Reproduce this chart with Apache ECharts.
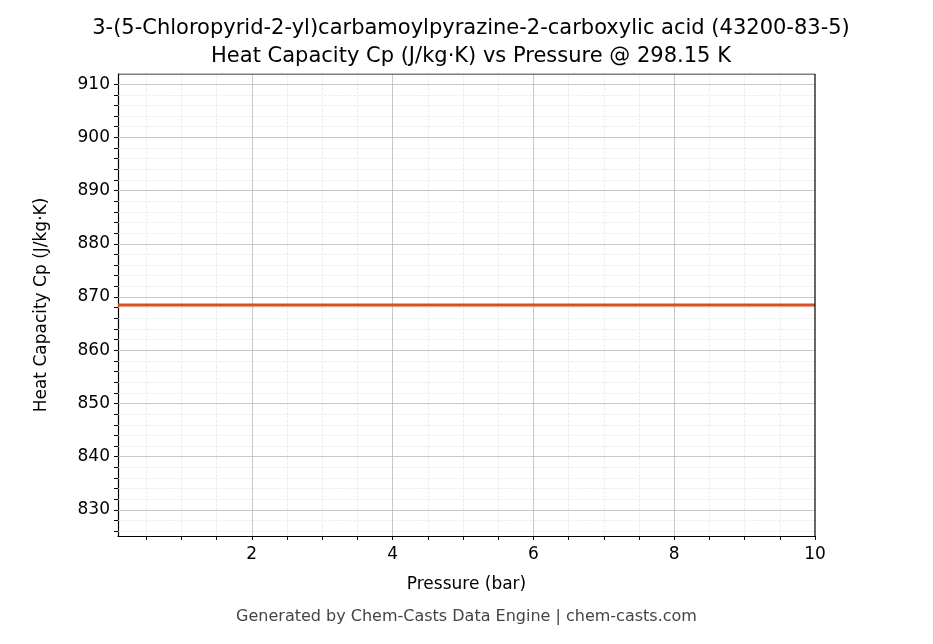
<!DOCTYPE html>
<html><head><meta charset="utf-8">
<script src="https://cdn.jsdelivr.net/npm/echarts@6/dist/echarts.min.js"></script>
<style>html,body{margin:0;padding:0;background:#fff}#c{width:933px;height:644px}</style>
</head><body><div id="c"></div>
<script>
const pressure = [0.1, 1, 2, 3, 4, 5, 6, 7, 8, 9, 10];
const cp = [868.5, 868.5, 868.5, 868.5, 868.5, 868.5, 868.5, 868.5, 868.5, 868.5, 868.5];
const xMajor = [2, 4, 6, 8, 10];
const xMinor = [0.5, 1, 1.5, 2.5, 3, 3.5, 4.5, 5, 5.5, 6.5, 7, 7.5, 8.5, 9, 9.5];
const yMajor = [830, 840, 850, 860, 870, 880, 890, 900, 910];
const yMinor = [];
for (let v = 826; v <= 911; v += 2) if (v % 10 !== 0) yMinor.push(v);

const font = 'DejaVu Sans';
const chart = echarts.init(document.getElementById('c'));
const ml = (arr, axis, color, type) => arr.map(v => ({[axis]: v, lineStyle: {color, width: 0.7, type}}));
chart.setOption({
  animation: false,
  title: {text: '3-(5-Chloropyrid-2-yl)carbamoylpyrazine-2-carboxylic acid (43200-83-5)\nHeat Capacity Cp (J/kg·K) vs Pressure @ 298.15 K',
    left: 466, top: 10, textAlign: 'center',
    textStyle: {fontFamily: font, fontSize: 21, fontWeight: 'normal', color: '#000', lineHeight: 28}},
  graphic: [{type: 'text', left: 'center', top: 609, style: {text: 'Generated by Chem-Casts Data Engine | chem-casts.com', font: '16px DejaVu Sans', fill: '#444'}}],
  grid: {left: 118, right: 118, top: 74, bottom: 108, show: false},
  xAxis: {type: 'value', min: 0.1, max: 10, name: 'Pressure (bar)', nameLocation: 'middle', nameGap: 40,
    nameTextStyle: {fontFamily: font, fontSize: 17, color: '#000'},
    axisLine: {lineStyle: {color: '#000', width: 1.2}},
    axisTick: {customValues: xMajor.concat(xMinor), length: 4, lineStyle: {color: '#000'}},
    axisLabel: {customValues: xMajor, fontFamily: font, fontSize: 17, color: '#000', margin: 10},
    splitLine: {show: false}},
  yAxis: {type: 'value', min: 825.1, max: 911.9, name: 'Heat Capacity Cp (J/kg·K)', nameLocation: 'middle', nameGap: 68,
    nameTextStyle: {fontFamily: font, fontSize: 17, color: '#000'},
    axisLine: {show: true, lineStyle: {color: '#000', width: 1.2}},
    axisTick: {customValues: yMajor.concat(yMinor), length: 4, lineStyle: {color: '#000'}},
    axisLabel: {customValues: yMajor, fontFamily: font, fontSize: 17, color: '#000', margin: 8},
    splitLine: {show: false}},
  series: [
    {type: 'line', data: [], silent: true, markLine: {symbol: 'none', silent: true, label: {show: false},
      data: ml(xMinor, 'xAxis', '#e4e4e4', 'dashed').concat(ml(yMinor, 'yAxis', '#e4e4e4', 'dashed'))
        .concat(ml(xMajor.slice(0, 4), 'xAxis', '#b0b0b0', 'solid')).concat(ml(yMajor, 'yAxis', '#b0b0b0', 'solid'))}},
    {type: 'line', data: pressure.map((p, i) => [p, cp[i]]), showSymbol: false,
      lineStyle: {color: '#d94f1e', width: 3}, z: 5},
    {type: 'line', data: [[10, 825.1], [10, 911.9], [0.1, 911.9]], showSymbol: false, lineStyle: {color: '#000', width: 1.2}, z: 6}
  ]
});
</script></body></html>
